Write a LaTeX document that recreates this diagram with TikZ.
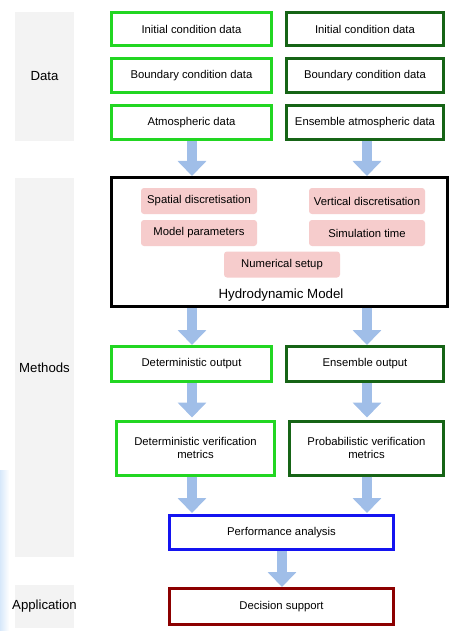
\documentclass[tikz,border=0pt]{standalone}
\usepackage{fontspec}
\setmainfont{Liberation Sans}
\usetikzlibrary{arrows.meta,calc,fadings}
\definecolor{lgreen}{RGB}{34,214,34}
\definecolor{dgreen}{RGB}{22,100,22}
\definecolor{pblue}{RGB}{20,20,240}
\definecolor{dred}{RGB}{140,0,0}
\definecolor{pinkf}{RGB}{246,204,204}
\definecolor{arrowc}{RGB}{160,190,232}
\definecolor{band}{RGB}{243,243,243}
\definecolor{edgeblue}{RGB}{215,232,250}
\tikzset{
  box/.style={draw, line width=3pt, fill=white, inner sep=0pt, font=\fontsize{11.3}{13.5}\selectfont, align=center},
  lbox/.style={box, draw=lgreen},
  dbox/.style={box, draw=dgreen},
  pinkbox/.style={fill=pinkf, rounded corners=3pt, inner sep=0pt, minimum width=116pt, minimum height=26pt, font=\fontsize{11.3}{13.5}\selectfont},
  bandlbl/.style={fill=band, inner sep=0pt, minimum width=59pt, font=\fontsize{13.2}{15}\selectfont},
  bigarrow/.style={draw=arrowc, line width=10pt, -{Triangle[width=28pt,length=15pt]}},
}
\begin{document}
\begin{tikzpicture}[x=1pt,y=-1pt]
\useasboundingbox (0,0) rectangle (449,631);
\fill[edgeblue, path fading=east] (0,470) rectangle (9,631);
% bands
\node[bandlbl, minimum height=129pt] (bdata) at (44.5,76.5) {\makebox[0pt]{Data}};
\node[bandlbl, minimum height=379pt] (bmeth) at (44.5,367.5) {\makebox[0pt]{Methods}};
\node[bandlbl, minimum height=43pt] (bapp) at (44.5,606.5) {\makebox[0pt]{Application}};
% data boxes
\node[lbox, minimum width=160pt, minimum height=33pt] (ic1) at (191.5,29.5) {Initial condition data};
\node[lbox, minimum width=160pt, minimum height=34pt] (bc1) at (191.5,75.5) {Boundary condition data};
\node[lbox, minimum width=160pt, minimum height=34pt] (at1) at (191.5,122.5) {Atmospheric data};
\node[dbox, minimum width=157pt, minimum height=33pt] (ic2) at (365,29.5) {Initial condition data};
\node[dbox, minimum width=157pt, minimum height=34pt] (bc2) at (365,75.5) {Boundary condition data};
\node[dbox, minimum width=157pt, minimum height=34pt] (at2) at (365,122.5) {Ensemble atmospheric data};
% hydrodynamic model
\node[draw=black, line width=3pt, fill=white, minimum width=336pt, minimum height=129pt, inner sep=0pt] (hm) at (279,242) {};
\node[font=\fontsize{13.3}{15}\selectfont] (hmlbl) at (281,295) {Hydrodynamic Model};
\node[pinkbox] (sd) at (199,201) {Spatial discretisation};
\node[pinkbox] (vd) at (367,201) {Vertical discretisation};
\node[pinkbox] (mp) at (199,233) {Model parameters};
\node[pinkbox] (st) at (367,233) {Simulation time};
\node[pinkbox] (ns) at (282,264.5) {Numerical setup};
% outputs
\node[lbox, minimum width=160pt, minimum height=35pt] (do) at (191.5,364) {Deterministic output};
\node[dbox, minimum width=157pt, minimum height=35pt] (eo) at (365,364) {Ensemble output};
\node[lbox, minimum width=158pt, minimum height=54pt] (dv) at (195.5,448) {Deterministic verification\\metrics};
\node[dbox, minimum width=154pt, minimum height=54pt] (pv) at (366.5,448) {Probabilistic verification\\metrics};
\node[box, draw=pblue, minimum width=224pt, minimum height=34pt] (pa) at (281.5,532.5) {Performance analysis};
\node[box, draw=dred, minimum width=224pt, minimum height=36pt] (ds) at (281.5,606.5) {Decision support};
% arrows
\coordinate (xl) at (192,0);
\coordinate (xr) at (367,0);
\draw[bigarrow] (xl |- at1.south) -- (xl |- hm.north);
\draw[bigarrow] (xr |- at2.south) -- (xr |- hm.north);
\draw[bigarrow] (xl |- hm.south) -- (xl |- do.north);
\draw[bigarrow] (xr |- hm.south) -- (xr |- eo.north);
\draw[bigarrow] (xl |- do.south) -- ($(xl |- dv.north)+(0,-2)$);
\draw[bigarrow] (xr |- eo.south) -- ($(xr |- pv.north)+(0,-2)$);
\draw[bigarrow] (xl |- dv.south) -- ($(xl |- pa.north)+(0,-1)$);
\draw[bigarrow] (xr |- pv.south) -- ($(xr |- pa.north)+(0,-1)$);
\draw[bigarrow] (282,0 |- pa.south) -- (282,0 |- ds.north);
\end{tikzpicture}
\end{document}
